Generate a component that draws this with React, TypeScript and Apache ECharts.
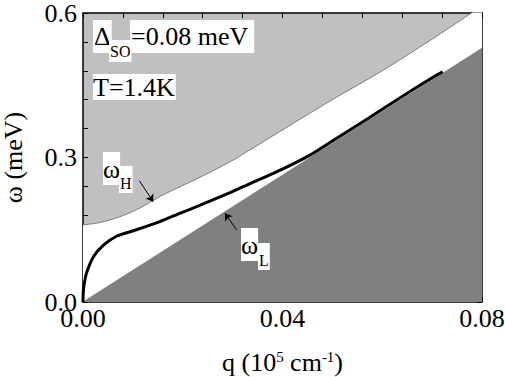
import React, { useEffect, useRef } from "react";
import * as echarts from "echarts";

// q in 10^5 cm^-1, omega in meV
const qUpper = [0, 0.0034, 0.0074, 0.0114, 0.0154, 0.0194, 0.0231, 0.0295, 0.0335, 0.0495, 0.06, 0.0696, 0.0779, 0.08];
const wUpper = [0.16, 0.165, 0.177, 0.195, 0.219, 0.239, 0.257, 0.291, 0.316, 0.417, 0.48, 0.543, 0.6, 0.615];

const qMid = [0, 0.00005, 0.0002, 0.0007, 0.0021, 0.0041, 0.0068, 0.0101, 0.0154, 0.0194, 0.0235, 0.0295, 0.0335, 0.04, 0.0455, 0.0495, 0.0535, 0.06, 0.0636, 0.0696, 0.0721];
const wMid = [0, 0.02, 0.035, 0.06, 0.094, 0.118, 0.137, 0.148, 0.167, 0.184, 0.201, 0.227, 0.246, 0.276, 0.305, 0.331, 0.357, 0.4, 0.424, 0.463, 0.478];

const qLow = [0, 0.08];
const wLow = [0, 0.527];

const xTicks = [0, 0.04, 0.08];
const yTicks = [0, 0.3, 0.6];

const FONT = "Liberation Serif";

const zip = (a: number[], b: number[]) => a.map((v, i) => [v, b[i]]);

export default function App() {
  const ref = useRef<HTMLDivElement>(null);
  useEffect(() => {
    if (!ref.current) return;
    document.body.style.margin = "0";
    const chart = echarts.init(ref.current, null, { renderer: "svg" });
    const axisCommon = {
      type: "value" as const,
      axisLine: { show: true, onZero: false, lineStyle: { color: "#000", width: 1.5 } },
      axisTick: { show: true, inside: true, length: 5, lineStyle: { color: "#000", width: 1 } },
      minorTick: { show: true, splitNumber: 5, length: 5, lineStyle: { color: "#000", width: 1 } },
      splitLine: { show: false },
      minorSplitLine: { show: false },
    };
    const xMin = xTicks[0], xMax = xTicks[xTicks.length - 1], xInt = xTicks[1] - xTicks[0];
    const yMin = yTicks[0], yMax = yTicks[yTicks.length - 1], yInt = yTicks[1] - yTicks[0];
    const textEl = (text: string, x: number, y: number, size: number, padding: number[]) => ({
      type: "text",
      x,
      y,
      z: 100,
      style: {
        text,
        fontFamily: FONT,
        fontSize: size,
        fill: "#000",
        backgroundColor: "#fff",
        padding,
        verticalAlign: "top",
        align: "left",
      },
    });
    chart.setOption({
      animation: false,
      textStyle: { fontFamily: FONT },
      grid: {
        left: 83,
        right: 23,
        top: 13,
        bottom: 75,
        containLabel: false,
        outerBoundsMode: "none",
        show: true,
        backgroundColor: "#c0c0c0",
        borderWidth: 0,
      },
      xAxis: [
        {
          ...axisCommon,
          min: xMin,
          max: xMax,
          interval: xInt,
          position: "bottom",
          axisLabel: { color: "#000", fontFamily: FONT, fontSize: 26, margin: 3, formatter: (v: number) => v.toFixed(2) },
          name: "{a|q (10}{s|5}{a| cm}{s|-1}{a|)}",
          nameLocation: "middle",
          nameGap: 47,
          nameTextStyle: {
            color: "#000",
            fontFamily: FONT,
            fontSize: 26,
            rich: {
              a: { fontFamily: FONT, fontSize: 26, color: "#000" },
              s: { fontFamily: FONT, fontSize: 15, color: "#000", padding: [0, 0, 12, 0] },
            },
          },
        },
        { ...axisCommon, min: xMin, max: xMax, interval: xInt, position: "top", axisLabel: { show: false } },
      ],
      yAxis: [
        {
          ...axisCommon,
          min: yMin,
          max: yMax,
          interval: yInt,
          position: "left",
          axisLabel: { color: "#000", fontFamily: FONT, fontSize: 26, margin: 6, formatter: (v: number) => v.toFixed(1) },
          name: "\u03c9 (meV)",
          nameLocation: "middle",
          nameGap: 57,
          nameTextStyle: { color: "#000", fontFamily: FONT, fontSize: 26 },
        },
        { ...axisCommon, min: yMin, max: yMax, interval: yInt, position: "right", axisLabel: { show: false } },
      ],
      series: [
        {
          type: "line",
          data: zip(qUpper, wUpper),
          showSymbol: false,
          smooth: 0.3,
          lineStyle: { color: "#666", width: 0.8 },
          areaStyle: { color: "#fff", opacity: 1 },
          z: 2,
        },
        {
          type: "line",
          data: zip(qLow, wLow),
          showSymbol: false,
          lineStyle: { color: "#6a6a6a", width: 0.6 },
          areaStyle: { color: "#808080", opacity: 1 },
          z: 3,
        },
        {
          type: "line",
          data: zip(qMid, wMid),
          showSymbol: false,
          smooth: 0.2,
          lineStyle: { color: "#000", width: 3 },
          z: 4,
          markLine: {
            silent: true,
            symbol: ["none", "arrow"],
            symbolSize: 7,
            label: { show: false },
            lineStyle: { color: "#000", width: 1, type: "solid" },
            data: [
              [{ coord: [0.01129, 0.2518] }, { coord: [0.01409, 0.2082] }],
              [{ coord: [0.03082, 0.1495] }, { coord: [0.02847, 0.1841] }],
            ],
          },
        },
      ],
      graphic: [
        textEl("\u0394", 93, 20, 26, [3, 1, 4, 1]),
        textEl("SO", 109, 40, 16, [3, 1, 3, 1]),
        textEl("=0.08 meV", 130, 20, 26, [3, 6, 4, 1]),
        textEl("T=1.4K", 93, 74, 26, [0, 1, 0, 0]),
        textEl("\u03c9", 103, 152, 26, [4, 0, 3, 0]),
        textEl("H", 119, 166, 16, [9, 1, 2, 1]),
        textEl("\u03c9", 241, 228, 26, [4, 0, 3, 0]),
        textEl("L", 258, 243, 16, [9, 1, 2, 1]),
      ],
    });
    return () => chart.dispose();
  }, []);
  return <div ref={ref} style={{ width: 505, height: 377 }} />;
}
